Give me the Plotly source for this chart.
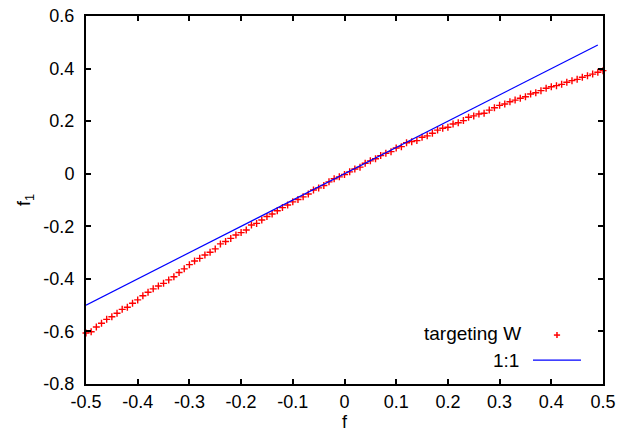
import plotly.graph_objects as go

f_vals = [-0.50, -0.49, -0.48, -0.47, -0.46, -0.45, -0.44, -0.43, -0.42, -0.41,
          -0.40, -0.39, -0.38, -0.37, -0.36, -0.35, -0.34, -0.33, -0.32, -0.31,
          -0.30, -0.29, -0.28, -0.27, -0.26, -0.25, -0.24, -0.23, -0.22, -0.21,
          -0.20, -0.19, -0.18, -0.17, -0.16, -0.15, -0.14, -0.13, -0.12, -0.11,
          -0.10, -0.09, -0.08, -0.07, -0.06, -0.05, -0.04, -0.03, -0.02, -0.01,
          0.00, 0.01, 0.02, 0.03, 0.04, 0.05, 0.06, 0.07, 0.08, 0.09,
          0.10, 0.11, 0.12, 0.13, 0.14, 0.15, 0.16, 0.17, 0.18, 0.19,
          0.20, 0.21, 0.22, 0.23, 0.24, 0.25, 0.26, 0.27, 0.28, 0.29,
          0.30, 0.31, 0.32, 0.33, 0.34, 0.35, 0.36, 0.37, 0.38, 0.39,
          0.40, 0.41, 0.42, 0.43, 0.44, 0.45, 0.46, 0.47, 0.48, 0.49, 0.50]

f1_targeting_W = [-0.606, -0.601, -0.583, -0.569, -0.554, -0.544, -0.531, -0.516, -0.508, -0.493,
                  -0.480, -0.464, -0.451, -0.438, -0.427, -0.417, -0.404, -0.392, -0.376, -0.362,
                  -0.346, -0.332, -0.322, -0.309, -0.299, -0.286, -0.267, -0.258, -0.246, -0.233,
                  -0.224, -0.214, -0.195, -0.189, -0.176, -0.163, -0.153, -0.141, -0.129, -0.119,
                  -0.107, -0.098, -0.088, -0.077, -0.062, -0.054, -0.045, -0.031, -0.019, -0.012,
                  -0.003, 0.007, 0.018, 0.025, 0.040, 0.049, 0.057, 0.069, 0.078, 0.084,
                  0.098, 0.103, 0.118, 0.122, 0.126, 0.139, 0.144, 0.154, 0.166, 0.173,
                  0.177, 0.189, 0.194, 0.202, 0.215, 0.220, 0.227, 0.230, 0.242, 0.251,
                  0.260, 0.265, 0.274, 0.280, 0.287, 0.293, 0.303, 0.308, 0.316, 0.325,
                  0.331, 0.335, 0.340, 0.348, 0.354, 0.359, 0.367, 0.373, 0.379, 0.386, 0.392]

one_to_one_x = [-0.5, 0.49]
one_to_one_y = [-0.5, 0.49]

x_tickvals = [-0.5, -0.4, -0.3, -0.2, -0.1, 0, 0.1, 0.2, 0.3, 0.4, 0.5]
x_ticktext = ["-0.5", "-0.4", "-0.3", "-0.2", "-0.1", "0", "0.1", "0.2", "0.3", "0.4", "0.5"]
y_tickvals = [-0.8, -0.6, -0.4, -0.2, 0, 0.2, 0.4, 0.6]
y_ticktext = ["-0.8", "-0.6", "-0.4", "-0.2", "0", "0.2", "0.4", "0.6"]

series_names = ["targeting W", "1:1"]

FONT = "Liberation Sans, Arial, sans-serif"
RED = "#ff0000"
BLUE = "#0000ff"

fig = go.Figure()
fig.add_trace(go.Scatter(
    x=f_vals, y=f1_targeting_W, mode="markers", name=series_names[0],
    marker=dict(symbol="cross-thin", size=5, line=dict(color=RED, width=1.4), color=RED),
    showlegend=False, cliponaxis=False,
))
fig.add_trace(go.Scatter(
    x=one_to_one_x, y=one_to_one_y, mode="lines", name=series_names[1],
    line=dict(color=BLUE, width=1.2), showlegend=False,
))

axis_common = dict(
    showgrid=False, zeroline=False, showline=True, linecolor="black", linewidth=2,
    mirror="allticks", ticks="inside", ticklen=5, tickwidth=2, tickcolor="black",
    tickfont=dict(family=FONT, size=18, color="black"), automargin=False,
)
fig.update_xaxes(range=[-0.5, 0.5], tickvals=x_tickvals, ticktext=x_ticktext,
                 title=dict(text="f", font=dict(family=FONT, size=18, color="black"), standoff=9),
                 ticklabelstandoff=0, **axis_common)
fig.update_yaxes(range=[-0.8, 0.6], tickvals=y_tickvals, ticktext=y_ticktext,
                 title=dict(text="f<sub>1</sub>", font=dict(family=FONT, size=18, color="black"), standoff=8),
                 ticklabelstandoff=6, **axis_common)

# gnuplot-style key: text right-aligned, sample to the right
annots = [
    dict(x=0.845, y=0.136, text=series_names[0]),
    dict(x=0.842, y=0.065, text=series_names[1]),
]
for a in annots:
    fig.add_annotation(xref="paper", yref="paper", x=a["x"], y=a["y"], text=a["text"],
                       showarrow=False, xanchor="right", yanchor="middle",
                       font=dict(family=FONT, size=19, color="black"))
# red cross sample
fig.add_shape(type="line", xref="paper", yref="paper", x0=0.905, x1=0.917, y0=0.133, y1=0.133,
              line=dict(color=RED, width=1.5))
fig.add_shape(type="line", xref="paper", yref="paper", x0=0.911, x1=0.911, y0=0.125, y1=0.141,
              line=dict(color=RED, width=1.5))
# blue line sample
fig.add_shape(type="line", xref="paper", yref="paper", x0=0.8646, x1=0.9574, y0=0.065, y1=0.065,
              line=dict(color=BLUE, width=1.2))

fig.update_layout(
    template="none",
    width=623, height=432,
    margin=dict(l=86, r=20, t=16, b=48),
    paper_bgcolor="white", plot_bgcolor="white",
    font=dict(family=FONT, size=18, color="black"),
)

fig.write_html("out.html", config={"displayModeBar": False},
               post_script="document.body.style.margin='0';document.body.style.overflow='hidden';")
